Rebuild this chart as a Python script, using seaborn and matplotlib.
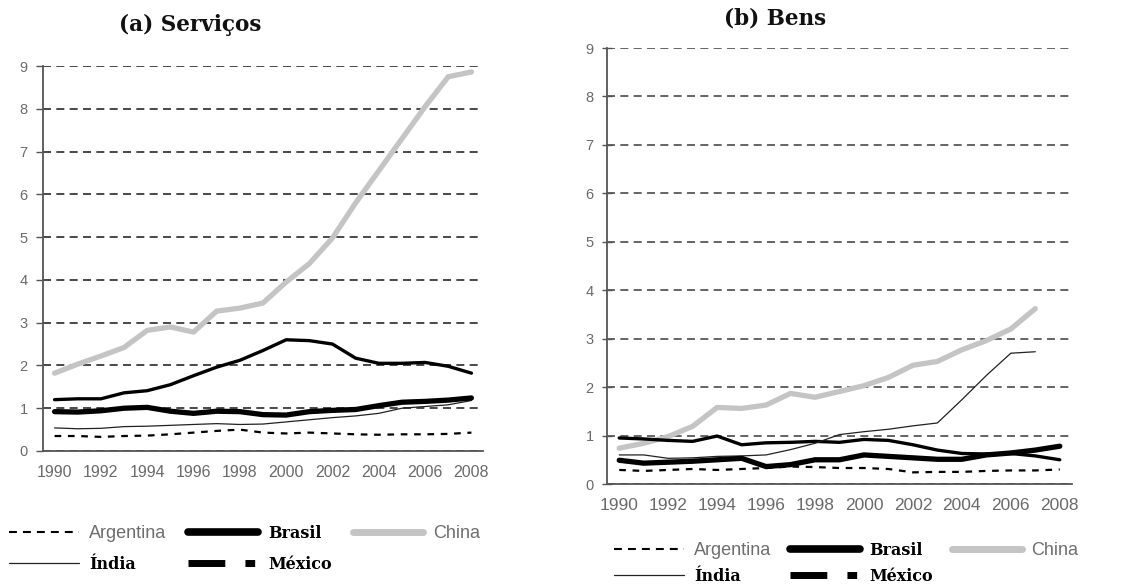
import numpy as np
import pandas as pd
import matplotlib
matplotlib.use("Agg")
import matplotlib.pyplot as plt
from matplotlib.lines import Line2D
import seaborn as sns

# ---------------- data ----------------
years = list(range(1990, 2009))
years_short = list(range(1990, 2008))
year_labels = [str(y) for y in range(1990, 2009, 2)]
y_ticks = list(range(0, 10))

# (a) Serviços
arg_s = [0.35, 0.35, 0.33, 0.35, 0.36, 0.39, 0.43, 0.47, 0.50, 0.43, 0.41, 0.43, 0.41, 0.39, 0.38, 0.39, 0.39, 0.40, 0.43]
bra_s = [0.92, 0.91, 0.94, 1.00, 1.02, 0.93, 0.88, 0.93, 0.92, 0.85, 0.84, 0.92, 0.95, 0.97, 1.06, 1.14, 1.16, 1.19, 1.24]
chi_s = [1.82, 2.03, 2.22, 2.42, 2.82, 2.90, 2.78, 3.27, 3.34, 3.46, 3.95, 4.38, 4.98, 5.80, 6.55, 7.30, 8.05, 8.75, 8.86]
ind_s = [0.54, 0.52, 0.53, 0.57, 0.58, 0.60, 0.62, 0.64, 0.62, 0.63, 0.68, 0.73, 0.78, 0.82, 0.88, 1.00, 1.04, 1.08, 1.18]
mex_s = [1.20, 1.22, 1.22, 1.36, 1.41, 1.55, 1.76, 1.96, 2.12, 2.35, 2.60, 2.58, 2.50, 2.17, 2.05, 2.05, 2.07, 1.98, 1.82]

# (b) Bens
arg_g = [0.29, 0.27, 0.29, 0.31, 0.29, 0.31, 0.33, 0.36, 0.35, 0.33, 0.33, 0.31, 0.24, 0.25, 0.25, 0.27, 0.28, 0.28, 0.30]
bra_g = [0.49, 0.43, 0.45, 0.47, 0.50, 0.53, 0.36, 0.40, 0.50, 0.50, 0.60, 0.57, 0.54, 0.51, 0.51, 0.60, 0.64, 0.70, 0.78]
chi_g = [0.74, 0.84, 0.98, 1.19, 1.58, 1.56, 1.63, 1.87, 1.79, 1.91, 2.03, 2.20, 2.45, 2.53, 2.77, 2.96, 3.20, 3.62]
ind_g = [0.60, 0.60, 0.53, 0.54, 0.57, 0.58, 0.60, 0.71, 0.84, 1.02, 1.08, 1.13, 1.20, 1.26, 1.74, 2.24, 2.70, 2.73]
mex_g = [0.95, 0.93, 0.90, 0.88, 0.99, 0.81, 0.85, 0.86, 0.88, 0.86, 0.92, 0.90, 0.81, 0.70, 0.63, 0.62, 0.63, 0.58, 0.50]

# ---------------- style ----------------
sns.set_style("white")
plt.rcParams["font.family"] = ["Liberation Sans", "DejaVu Sans"]

W, H = 1133, 586
fig = plt.figure(figsize=(W / 100, H / 100), dpi=100)

def px_axes(x0, x1, ytop, ybot):
    return fig.add_axes([x0 / W, 1 - ybot / H, (x1 - x0) / W, (ybot - ytop) / H])

axL = px_axes(43, 483, 66, 451)
axR = px_axes(607, 1072, 48, 484)

CHINA = "#c4c4c4"
AXC = "#555555"
TICKC = "#6a6a6a"

def draw(ax, arg, bra, chi, ind, mex, chi_years, ind_years):
    sns.lineplot(x=chi_years, y=chi, ax=ax, color=CHINA, linewidth=3.8, legend=False)
    sns.lineplot(x=years, y=mex, ax=ax, color="black", linewidth=2.4, legend=False)
    sns.lineplot(x=ind_years, y=ind, ax=ax, color="#222222", linewidth=0.9, legend=False)
    sns.lineplot(x=years, y=bra, ax=ax, color="black", linewidth=3.8, legend=False)
    sns.lineplot(x=years, y=arg, ax=ax, color="black", linewidth=1.6,
                 linestyle=(0, (3, 3)), legend=False)

draw(axL, arg_s, bra_s, chi_s, ind_s, mex_s, years, years)
draw(axR, arg_g, bra_g, chi_g, ind_g, mex_g, years_short, years_short)

for ax, ylab_pad, ydir, xlab_fs, gcol in [(axL, 6, "out", 11.5, "#2a2a2a"), (axR, 6, "inout", 12.5, "#4a4a4a")]:
    ax.set_xlim(1989.5, 2008.5)
    ax.set_ylim(0, 9)
    ax.set_xlabel("")
    ax.set_ylabel("")
    ax.set_yticks(y_ticks)
    ax.set_yticklabels([str(v) for v in y_ticks])
    ax.set_xticks(np.arange(1989.5, 2009.0, 1.0))
    ax.set_xticklabels([])
    ax.set_xticks([int(s) for s in year_labels], minor=True)
    ax.set_xticklabels(year_labels, minor=True)
    ax.tick_params(axis="x", which="major", direction="out", length=5, width=1, color=AXC)
    ax.tick_params(axis="x", which="minor", length=0, pad=10, labelsize=xlab_fs, labelcolor=TICKC)
    ax.tick_params(axis="y", which="major", direction=ydir, length=7 if ydir == "inout" else 5,
                   width=1, color=AXC, pad=ylab_pad, labelsize=10.5, labelcolor=TICKC, left=True)
    ax.yaxis.grid(True, linestyle=(0, (4.8, 3.2)), color=gcol, linewidth=1.2)
    ax.xaxis.grid(False)
    ax.set_axisbelow(True)
    for s in ["top", "right"]:
        ax.spines[s].set_visible(False)
    for s in ["left", "bottom"]:
        ax.spines[s].set_color(AXC)
        ax.spines[s].set_linewidth(1.3)
    ax.set_facecolor("white")

# titles
fig.text(190 / W, 1 - 25 / H, "(a) Serviços", ha="center", va="center",
         fontsize=15.5, fontweight="bold", family="DejaVu Serif", color="#111111")
fig.text(775 / W, 1 - 18 / H, "(b) Bens", ha="center", va="center",
         fontsize=15.5, fontweight="bold", family="DejaVu Serif", color="#111111")

# legends
def make_handles():
    h_arg = Line2D([], [], color="black", linewidth=1.5, linestyle=(0, (3.8, 2.9)))
    h_ind = Line2D([], [], color="#222222", linewidth=0.9)
    h_bra = Line2D([], [], color="black", linewidth=5.5)
    h_mex = Line2D([], [], color="black", linewidth=5, linestyle=(0, (5.3, 2.9, 1.4, 2.9)))
    h_chi = Line2D([], [], color=CHINA, linewidth=5)
    return [h_arg, h_ind, h_bra, h_mex, h_chi], ["Argentina", "Índia", "Brasil", "México", "China"]

def style_legend(leg):
    for t in leg.get_texts():
        if t.get_text() in ("Argentina", "China"):
            t.set_family("Liberation Sans")
            t.set_fontsize(13)
            t.set_color("#6e6e6e")
        else:
            t.set_family("DejaVu Serif")
            t.set_fontweight("bold")
            t.set_fontsize(11.5)
            t.set_color("black")

hs, ls = make_handles()
legL = fig.legend(hs, ls, ncol=3, loc="upper left", bbox_to_anchor=(9 / W, 1 - 525 / H),
                  frameon=False, fontsize=12, handlelength=4.2, handletextpad=0.6,
                  columnspacing=1.3, labelspacing=0.85, borderpad=0, borderaxespad=0)
style_legend(legL)

hs, ls = make_handles()
legR = fig.legend(hs, ls, ncol=3, loc="upper left", bbox_to_anchor=(614 / W, 1 - 542 / H),
                  frameon=False, fontsize=12, handlelength=4.2, handletextpad=0.6,
                  columnspacing=1.1, labelspacing=0.55, borderpad=0, borderaxespad=0)
style_legend(legR)

fig.savefig("out.png", dpi=100, facecolor="white")
